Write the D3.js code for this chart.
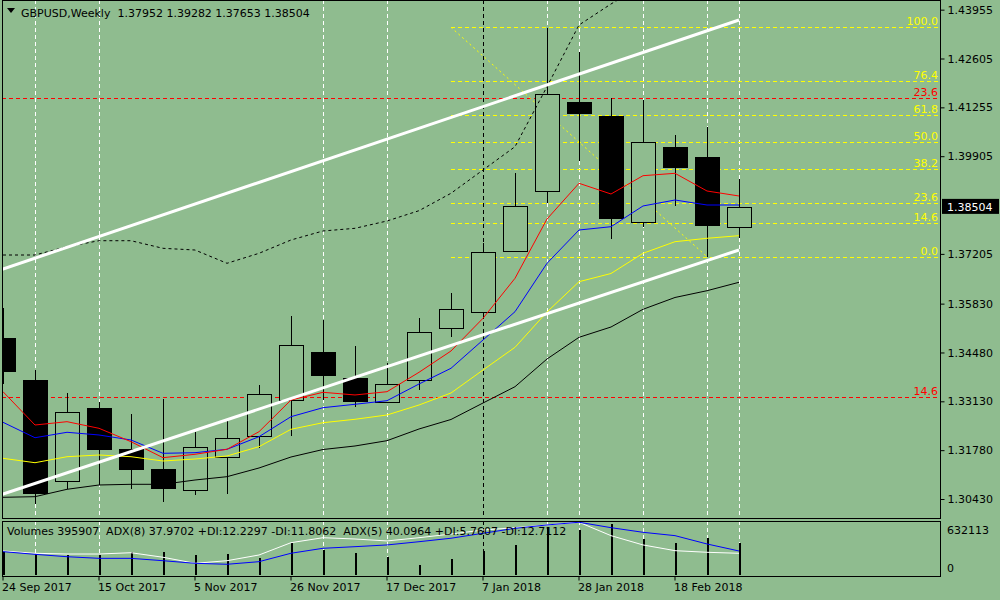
<!DOCTYPE html>
<html>
<head>
<meta charset="utf-8">
<script src="https://cdn.jsdelivr.net/npm/d3@7"></script>
<style>
	body { margin: 0; background: #8fbc8f; }
	svg { display: block; font-family: "DejaVu Sans", sans-serif; font-size: 11px; }
	.pre { white-space: pre; }
	.crisp { shape-rendering: crispEdges; }
</style>
</head>
<body>
<svg class="chart"></svg>
<script>
// GBPUSD weekly, MT4 style chart

var weeks = ["24 Sep 2017", "1 Oct 2017", "8 Oct 2017", "15 Oct 2017", "22 Oct 2017", "29 Oct 2017",
	"5 Nov 2017", "12 Nov 2017", "19 Nov 2017", "26 Nov 2017", "3 Dec 2017", "10 Dec 2017",
	"17 Dec 2017", "24 Dec 2017", "31 Dec 2017", "7 Jan 2018", "14 Jan 2018", "21 Jan 2018",
	"28 Jan 2018", "4 Feb 2018", "11 Feb 2018", "18 Feb 2018", "25 Feb 2018", "4 Mar 2018"];
var dateTicks = ["24 Sep 2017", "15 Oct 2017", "5 Nov 2017", "26 Nov 2017", "17 Dec 2017",
	"7 Jan 2018", "28 Jan 2018", "18 Feb 2018"];

var open  = [1.34872, 1.33719, 1.30909, 1.32938, 1.31804, 1.31252, 1.30660, 1.31583, 1.32164, 1.33167, 1.34494, 1.33775,
	1.33103, 1.33712, 1.35149, 1.35591, 1.37285, 1.38925, 1.41404, 1.41017, 1.38079, 1.40160, 1.39884, 1.37952];
var high  = [1.35710, 1.33996, 1.33352, 1.33103, 1.32780, 1.33195, 1.32275, 1.32595, 1.33581, 1.35489, 1.35378, 1.34660,
	1.34198, 1.35434, 1.36125, 1.37498, 1.39433, 1.43441, 1.42778, 1.41523, 1.41459, 1.40492, 1.40713, 1.39282];
var low   = [1.33600, 1.30292, 1.30699, 1.30817, 1.30699, 1.30356, 1.30541, 1.30569, 1.31840, 1.32180, 1.33167, 1.32982,
	1.33103, 1.33444, 1.34917, 1.35434, 1.37250, 1.38604, 1.39781, 1.37617, 1.37941, 1.38538, 1.37111, 1.37653];
var close = [1.33949, 1.30605, 1.32827, 1.31793, 1.31252, 1.30727, 1.31860, 1.32109, 1.33325, 1.34679, 1.33867, 1.33148,
	1.33601, 1.35038, 1.35674, 1.37250, 1.38521, 1.41617, 1.41108, 1.38206, 1.40290, 1.39616, 1.37996, 1.38504];

// moving averages
var maRed    = [1.33396, 1.32475, 1.32567, 1.32384, 1.32014, 1.31572, 1.31666, 1.31804, 1.32290, 1.33166, 1.33379, 1.33305,
	1.33396, 1.33932, 1.34521, 1.35425, 1.36530, 1.38169, 1.39156, 1.38860, 1.39366, 1.39432, 1.38943, 1.38805];
var maBlue   = [1.32550, 1.32124, 1.32274, 1.32199, 1.32061, 1.31693, 1.31710, 1.31804, 1.32152, 1.32705, 1.32954, 1.33048,
	1.33147, 1.33609, 1.34043, 1.34825, 1.35607, 1.36945, 1.37865, 1.37956, 1.38529, 1.38694, 1.38556, 1.38556];
var maYellow = [1.31555, 1.31433, 1.31599, 1.31646, 1.31599, 1.31480, 1.31536, 1.31619, 1.31876, 1.32357, 1.32539, 1.32633,
	1.32752, 1.33028, 1.33360, 1.33995, 1.34623, 1.35599, 1.36436, 1.36663, 1.37221, 1.37542, 1.37636, 1.37708];
var maBlack  = [1.30477, 1.30494, 1.30698, 1.30817, 1.30836, 1.30836, 1.30955, 1.31047, 1.31287, 1.31591, 1.31798, 1.31895,
	1.32042, 1.32365, 1.32628, 1.33083, 1.33534, 1.34300, 1.34899, 1.35184, 1.35673, 1.36000, 1.36187, 1.36420];
var bandUpper = [1.37174, 1.37174, 1.37404, 1.37569, 1.37569, 1.37359, 1.37312, 1.36945, 1.37221, 1.37589, 1.37838,
	1.37912, 1.38114, 1.38399, 1.38880, 1.39524, 1.40168, 1.41826, 1.43531, 1.44112, 1.44637];

// sub window
var volumes = [288800, 256600, 247900, 247900, 281300, 288800, 247900, 260300, 214400, 400300, 313600, 272700,
	226800, 123900, 198300, 297500, 371800, 594900, 554000, 632113, 446200, 392900, 458600, 395907];
var adx8 = [40.1, 37.97, 37.3, 37.3, 38.5, 34.3, 28.7, 31.1, 36.4, 47.8, 52.4, 51.2,
	49.4, 52.4, 55.8, 59.5, 61.7, 64.2, 66.7, 54.3, 45.7, 40.4, 38.9, 37.97];
var adx5 = [39.5, 37.0, 34.8, 33.3, 33.3, 31.1, 28.7, 27.8, 30.2, 38.0, 42.6, 44.1,
	45.7, 48.7, 51.9, 56.5, 61.1, 64.2, 66.7, 61.7, 57.4, 54.3, 46.6, 40.1];

var priceTicks = [1.43955, 1.42605, 1.41255, 1.39905, 1.37205, 1.35830, 1.34480, 1.33130, 1.31780, 1.30430];
var volumeTicks = [632113, 0];

// objects drawn on the chart
var fibLevels = [0, 14.6, 23.6, 38.2, 50, 61.8, 76.4, 100];
var fibHigh = {i: 14, p: 1.43468};
var fibLow = {i: 22, p: 1.37128};
var redLevels = [1.41523, 1.33258];
var redLabels = ["23.6", "14.6"];
var trendUpper = [{i: -1, p: 1.36488}, {i: 23, p: 1.43669}];
var trendLower = [{i: -1, p: 1.30275}, {i: 23, p: 1.37312}];
var whiteLines = ["1 Oct 2017", "15 Oct 2017", "3 Dec 2017", "17 Dec 2017", "21 Jan 2018", "28 Jan 2018",
	"11 Feb 2018", "25 Feb 2018", "4 Mar 2018"];
var blackLines = ["7 Jan 2018"];

var bg = "#8fbc8f";
var left = 2, right = 940, mainTop = 0, mainBottom = 518, subTop = 521, subBottom = 576;

var svg = d3.select(".chart").attr("width", 1000).attr("height", 600);

var x = d3.scaleBand().domain(weeks).range([-13, -13 + 32 * weeks.length]);
var bw = x.bandwidth();
var xi = d3.scaleLinear().domain([0, weeks.length - 1])
	.range([x(weeks[0]) + bw / 2, x(weeks[weeks.length - 1]) + bw / 2]);
var y = d3.scaleLinear().domain([1.30430, 1.43955]).range([499, 9.67]);
var yv = d3.scaleLinear().domain([0, 632113]).range([575, 524]);
var ya = d3.scaleLinear().domain([0, 100]).range([594.3, 486.3]);

// pixel-snapped helpers
function px(v) { return Math.round(v) + 0.5; }
function cx(d) { return px(x(d) + bw / 2); }

var defs = svg.append("defs");
defs.append("clipPath").attr("id", "clipMain").append("rect")
	.attr("x", left).attr("y", mainTop).attr("width", right - left).attr("height", mainBottom - mainTop);
defs.append("clipPath").attr("id", "clipSub").append("rect")
	.attr("x", left).attr("y", subTop).attr("width", right - left).attr("height", subBottom - subTop);

svg.append("rect").attr("width", 1000).attr("height", 600).attr("fill", bg);

var main = svg.append("g").attr("clip-path", "url(#clipMain)");
var sub = svg.append("g").attr("clip-path", "url(#clipSub)");

// vertical lines (both windows)
[main, sub].forEach(function(g, k) {
	var y0 = k == 0 ? mainTop : subTop, y1 = k == 0 ? mainBottom : subBottom;
	g.selectAll(".vwhite").data(whiteLines).enter().append("line")
		.attr("class", "vwhite crisp")
		.attr("x1", cx).attr("x2", cx)
		.attr("y1", y0).attr("y2", y1)
		.attr("stroke", "#fff").attr("stroke-dasharray", "4,3");
	g.selectAll(".vblack").data(blackLines).enter().append("line")
		.attr("class", "vblack crisp")
		.attr("x1", cx).attr("x2", cx)
		.attr("y1", y0).attr("y2", y1)
		.attr("stroke", "#000").attr("stroke-dasharray", "4,3");
});

// red fibo lines
main.selectAll(".redfib").data(redLevels).enter().append("line")
	.attr("class", "redfib crisp")
	.attr("x1", left).attr("x2", right)
	.attr("y1", function(d) { return px(y(d)); })
	.attr("y2", function(d) { return px(y(d)); })
	.attr("stroke", "#ff0000").attr("stroke-dasharray", "4,3");

// yellow fibo lines
function fibPrice(l) { return fibLow.p + l / 100 * (fibHigh.p - fibLow.p); }
main.selectAll(".fib").data(fibLevels).enter().append("line")
	.attr("class", "fib crisp")
	.attr("x1", Math.round(xi(fibHigh.i))).attr("x2", right)
	.attr("y1", function(d) { return px(y(fibPrice(d))); })
	.attr("y2", function(d) { return px(y(fibPrice(d))); })
	.attr("stroke", "#ffff00").attr("stroke-dasharray", "4,3");
main.append("line")
	.attr("x1", xi(fibHigh.i)).attr("y1", y(fibHigh.p))
	.attr("x2", xi(fibLow.i)).attr("y2", y(fibLow.p))
	.attr("stroke", "#ffff00").attr("stroke-dasharray", "2,3");

// candles
var candle = main.selectAll(".candle").data(weeks).enter().append("g").attr("class", "candle crisp");
candle.append("line")
	.attr("x1", cx).attr("x2", cx)
	.attr("y1", function(d, i) { return y(high[i]); })
	.attr("y2", function(d, i) { return y(low[i]); })
	.attr("stroke", "#000").attr("stroke-width", 1.2);
candle.append("rect")
	.attr("x", function(d) { return Math.round(x(d) + bw / 2) - 11.5; })
	.attr("width", 24)
	.attr("y", function(d, i) { return px(y(Math.max(open[i], close[i]))); })
	.attr("height", function(d, i) { return Math.max(1, Math.round(y(Math.min(open[i], close[i])) - y(Math.max(open[i], close[i])))); })
	.attr("fill", function(d, i) { return close[i] < open[i] ? "#000" : bg; })
	.attr("stroke", "#000").attr("stroke-width", 1.3);

// moving averages and band
var line = d3.line().x(function(d, i) { return xi(i); }).y(function(d) { return y(d); });
[[maBlack, "#000"], [maYellow, "#ffff00"], [maBlue, "#0000ff"], [maRed, "#ff0000"]].forEach(function(m) {
	main.append("path").attr("d", line(m[0])).attr("fill", "none").attr("stroke", m[1]).attr("stroke-width", 1);
});
main.append("path").attr("d", line(bandUpper)).attr("fill", "none")
	.attr("stroke", "#000").attr("stroke-dasharray", "3,3");

// trend lines
var tline = d3.line().x(function(d) { return xi(d.i); }).y(function(d) { return y(d.p); });
[trendUpper, trendLower].forEach(function(t) {
	main.append("path").attr("d", tline(t)).attr("stroke", "#fff").attr("stroke-width", 3).attr("fill", "none");
});

// fibo labels
main.selectAll(".fibtxt").data(fibLevels).enter().append("text")
	.attr("x", right - 2).attr("y", function(d) { return y(fibPrice(d)) - 2; })
	.attr("text-anchor", "end").attr("fill", "#ffff00")
	.text(function(d) { return d.toFixed(1); });
main.selectAll(".redtxt").data(redLevels).enter().append("text")
	.attr("x", right - 2).attr("y", function(d) { return y(d) - 2; })
	.attr("text-anchor", "end").attr("fill", "#ff0000")
	.text(function(d, i) { return redLabels[i]; });

// sub window: volumes and ADX
sub.selectAll(".vol").data(volumes).enter().append("rect")
	.attr("class", "vol crisp")
	.attr("x", function(d, i) { return Math.round(xi(i)) - 0.5; })
	.attr("width", 2)
	.attr("y", function(d) { return yv(d); })
	.attr("height", function(d) { return yv(0) - yv(d); })
	.attr("fill", "#000");
var aline = d3.line().x(function(d, i) { return xi(i); }).y(function(d) { return ya(d); });
sub.append("path").attr("d", aline(adx8)).attr("fill", "none").attr("stroke", "#fff");
sub.append("path").attr("d", aline(adx5)).attr("fill", "none").attr("stroke", "#0000ff");

svg.append("text").attr("class", "pre").attr("x", 7).attr("y", 535)
	.text("Volumes " + volumes[volumes.length - 1] + "  ADX(8) 37.9702 +DI:12.2297 -DI:11.8062  ADX(5) 40.0964 +DI:5.7607 -DI:12.7112");

// frames
svg.append("rect").attr("class", "crisp").attr("x", left + 0.5).attr("y", mainTop + 0.5)
	.attr("width", right - left).attr("height", mainBottom - mainTop)
	.attr("fill", "none").attr("stroke", "#000");
svg.append("rect").attr("class", "crisp").attr("x", left + 0.5).attr("y", subTop + 0.5)
	.attr("width", right - left).attr("height", subBottom - subTop)
	.attr("fill", "none").attr("stroke", "#000");

// price axis
var yAxis = svg.append("g").attr("transform", "translate(" + (right + 0.5) + ",0)")
	.call(d3.axisRight(y).tickValues(priceTicks).tickFormat(d3.format(".5f")).tickSize(4).tickPadding(3));
yAxis.select(".domain").remove();
yAxis.attr("font-family", null).attr("font-size", null);
yAxis.selectAll("text").attr("fill", "#000");

// current price tag
var last = close[close.length - 1];
svg.append("rect").attr("x", right + 2).attr("y", y(last) - 8).attr("width", 57).attr("height", 15).attr("fill", "#000");
svg.append("text").attr("x", right + 7).attr("y", y(last)).attr("dy", "0.35em")
	.attr("fill", "#fff").text(last.toFixed(5));

// volume axis
svg.selectAll(".vtick").data(volumeTicks).enter().append("text")
	.attr("x", right + 7)
	.attr("y", function(d) { return d > 0 ? yv(d) + 10 : yv(d) - 3; })
	.text(function(d) { return d; });

// time axis
var xAxis = svg.append("g").attr("transform", "translate(0," + (subBottom + 0.5) + ")")
	.call(d3.axisBottom(x).tickValues(dateTicks).tickSize(4).tickPadding(3));
xAxis.select(".domain").remove();
xAxis.attr("font-family", null).attr("font-size", null);
xAxis.selectAll("text").attr("text-anchor", "start").attr("x", -1).attr("fill", "#000");

// header
var header = svg.append("g");
header.append("path").attr("d", "M7,8 L15,8 L11,13 Z").attr("fill", "#000");
header.append("text").attr("class", "pre").attr("x", 21).attr("y", 17)
	.text("GBPUSD,Weekly  " + [open, high, low, close].map(function(a) { return a[a.length - 1].toFixed(5); }).join(" "));
</script>
</body>
</html>
